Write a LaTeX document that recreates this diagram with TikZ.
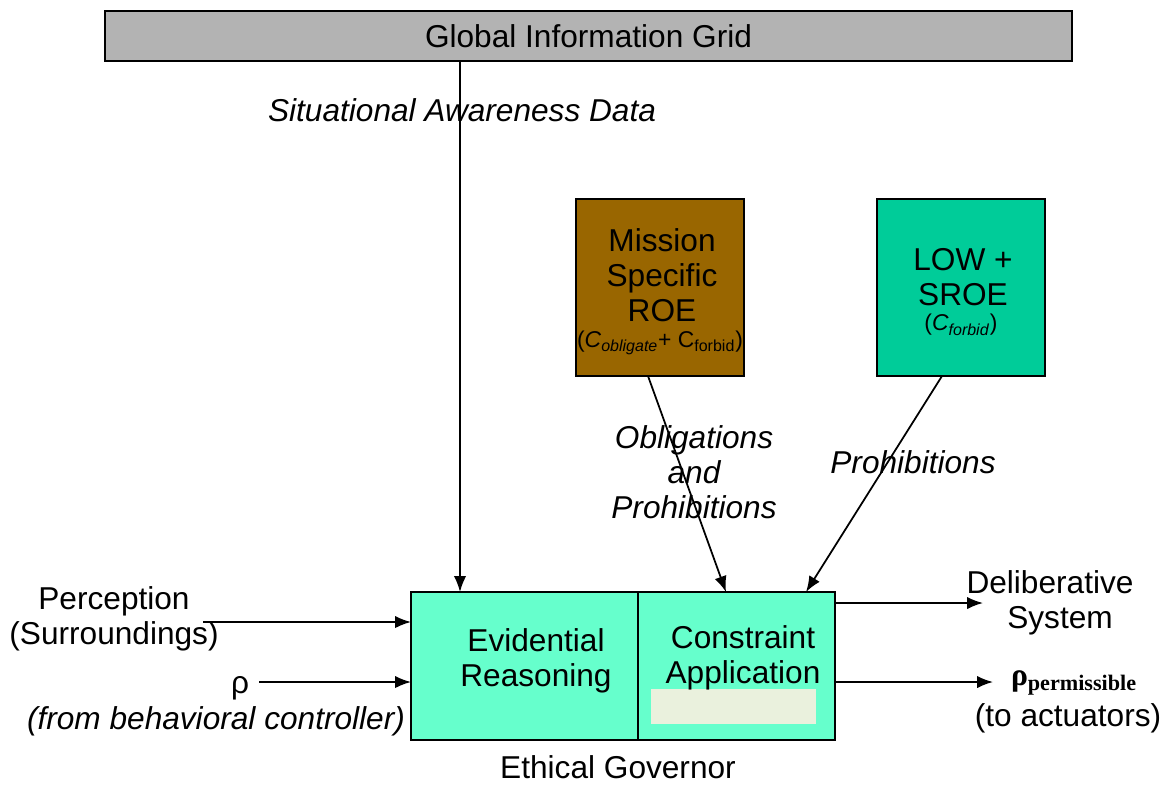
\documentclass[tikz,border=0pt]{standalone}
\usepackage{fontspec}
\setmainfont{Liberation Sans}
\newfontfamily\serif{Liberation Serif}
\usetikzlibrary{arrows.meta}

\definecolor{gridgray}{RGB}{179,179,179}
\definecolor{roebrown}{RGB}{153,102,0}
\definecolor{lowgreen}{RGB}{0,204,153}
\definecolor{govgreen}{RGB}{102,255,204}
\definecolor{paleblock}{RGB}{234,241,221}

\newcommand{\slidefont}{\fontsize{18}{20}\selectfont}
\newcommand{\smallslide}{\fontsize{13}{15}\selectfont}

\tikzset{
  box/.style={draw, line width=1.2pt, inner sep=0pt},
  flow/.style={-{Latex[length=9pt,width=7pt]}, line width=1pt},
  lbl/.style={align=center, font=\slidefont, inner sep=0pt},
}

\begin{document}
\begin{tikzpicture}[x=0.02cm, y=-0.02cm]
    \useasboundingbox (0,0) rectangle (1169,785);

    % boxes
    \node[box, fill=gridgray, minimum width=19.34cm, minimum height=1cm, font=\slidefont] (gig) at (588.5,36) {Global Information Grid};
    \node[box, fill=roebrown, minimum width=3.36cm, minimum height=3.54cm] (msroe) at (660,287.5) {};
    \node[box, fill=lowgreen, minimum width=3.36cm, minimum height=3.54cm] (lowsroe) at (961,287.5) {};
    \node[box, fill=govgreen, minimum width=4.54cm, minimum height=2.96cm] (evid) at (524.5,666) {};
    \node[box, fill=govgreen, minimum width=3.94cm, minimum height=2.96cm] (constr) at (736.5,666) {};
    \node[fill=paleblock, minimum width=3.3cm, minimum height=0.7cm, inner sep=0pt] (pale) at (733.5,706.5) {};

    % texts in the boxes
    \node[lbl] (msroetxt) at (662,275) {Mission\\Specific\\ROE};
    \node[lbl, font=\smallslide] (msroesub) at (660,343) {(\textit{C}\textsubscript{\textit{obligate}}+ C\textsubscript{forbid})};
    \node[lbl] (lowtxt) at (963,277) {LOW +\\SROE};
    \node[lbl, font=\smallslide] (lowsub) at (961,325) {(\textit{C}\textsubscript{\textit{forbid}})};
    \node[lbl] (evidtxt) at (536,661) {Evidential\\Reasoning};
    \node[lbl] (constrtxt) at (743,658) {Constraint\\Application};
    \node[lbl] (govtxt) at (618,767) {Ethical Governor};

    % labels
    \node[lbl, font=\slidefont\itshape] (sad) at (462,110) {Situational Awareness Data};
    \node[lbl, font=\slidefont\itshape] (oblig) at (694,472) {Obligations\\and\\Prohibitions};
    \node[lbl, font=\slidefont\itshape] (prohib) at (913,462) {Prohibitions};
    \node[lbl] (percept) at (114,619) {Perception\\(Surroundings)};
    \node[lbl] (rho) at (240,688) {ρ};
    \node[lbl, font=\slidefont\itshape] (behav) at (216,721) {(from behavioral controller)};
    \node[lbl] (delib) at (1050,603) {Deliberative\\\hspace*{0.4cm}System};
    \node[lbl] (rhoperm) at (1074,683) {\serif\bfseries ρ\textsubscript{permissible}};
    \node[lbl] (actu) at (1068,718) {(to actuators)};

    % connector ends
    \coordinate (sadtop) at (460,61);
    \coordinate (sadend) at (460,592);
    \coordinate (msout) at (648,376);
    \coordinate (msin) at (726,592);
    \coordinate (lowout) at (942,376);
    \coordinate (lowin) at (806,592);
    \coordinate (perstart) at (203,622);
    \coordinate (perend) at (411,622);
    \coordinate (rhostart) at (259,682);
    \coordinate (rhoend) at (411,682);
    \coordinate (delstart) at (835,603);
    \coordinate (delend) at (983,603);
    \coordinate (permstart) at (835,682);
    \coordinate (permend) at (993,682);

    % arrows
    \draw[flow] (sadtop) -- (sadend);
    \draw[flow] (msout) -- (msin);
    \draw[flow] (lowout) -- (lowin);
    \draw[flow] (perstart) -- (perend);
    \draw[flow] (rhostart) -- (rhoend);
    \draw[flow] (delstart) -- (delend);
    \draw[flow] (permstart) -- (permend);
\end{tikzpicture}
\end{document}
